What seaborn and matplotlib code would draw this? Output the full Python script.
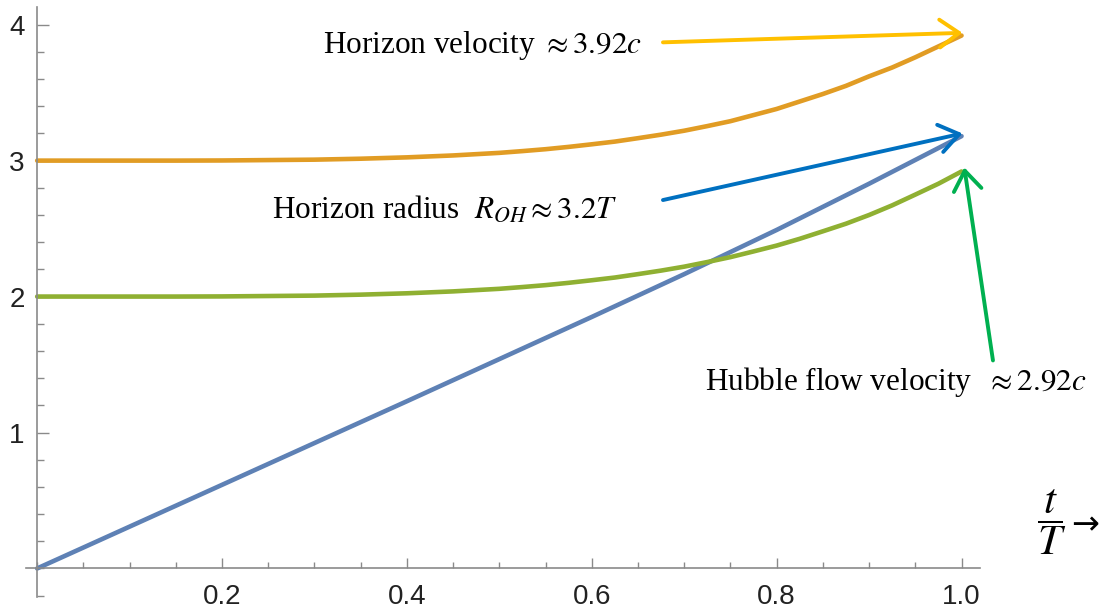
import numpy as np
import pandas as pd
import matplotlib
matplotlib.use("Agg")
import matplotlib.pyplot as plt
from matplotlib.ticker import MultipleLocator, FixedLocator
import seaborn as sns

# values
t_values = [0.0, 0.05, 0.1, 0.15, 0.2, 0.25, 0.3, 0.35, 0.4, 0.45, 0.5,
            0.525, 0.55, 0.575, 0.6, 0.625, 0.65, 0.675, 0.7, 0.725, 0.75,
            0.775, 0.8, 0.825, 0.85, 0.875, 0.9, 0.925, 0.95, 0.975, 1.0]
hubble_velocity = [2.0, 2.0, 2.0, 2.0, 2.001, 2.004, 2.007, 2.014, 2.024, 2.038, 2.057,
                   2.070, 2.084, 2.101, 2.12, 2.140, 2.165, 2.191, 2.22, 2.254, 2.29,
                   2.332, 2.375, 2.425, 2.48, 2.536, 2.60, 2.671, 2.75, 2.83, 2.92]
horizon_velocity = [3.0, 3.0, 3.0, 3.0, 3.001, 3.004, 3.007, 3.014, 3.024, 3.038, 3.057,
                    3.070, 3.084, 3.101, 3.12, 3.140, 3.165, 3.191, 3.22, 3.254, 3.29,
                    3.335, 3.38, 3.435, 3.49, 3.55, 3.62, 3.685, 3.76, 3.84, 3.92]
radius_t = [0.0, 0.2, 0.4, 0.6, 0.7, 0.8, 0.9, 1.0]
horizon_radius = [0.0, 0.615, 1.23, 1.85, 2.165, 2.49, 2.83, 3.18]

x_ticks = [0.2, 0.4, 0.6, 0.8, 1.0]
x_tick_labels = ["0.2", "0.4", "0.6", "0.8", "1.0"]
y_ticks = [1, 2, 3, 4]
y_tick_labels = ["1", "2", "3", "4"]

colors = {"radius": "#5E81B5", "horizon": "#E19C24", "hubble": "#8FB032"}

# long-form table for seaborn
df = pd.concat([
    pd.DataFrame({"t": radius_t, "value": horizon_radius, "series": "radius"}),
    pd.DataFrame({"t": t_values, "value": horizon_velocity, "series": "horizon"}),
    pd.DataFrame({"t": t_values, "value": hubble_velocity, "series": "hubble"}),
], ignore_index=True)

sns.set_style("white")
plt.rcParams["font.family"] = ["Liberation Sans", "DejaVu Sans"]
plt.rcParams["mathtext.fontset"] = "stix"

fig = plt.figure(figsize=(11.04, 6.14), dpi=100)
ax = fig.add_axes([0.0236, 0.0277, 0.8641, 0.9609])

sns.lineplot(data=df, x="t", y="value", hue="series", palette=colors,
             linewidth=3.3, legend=False, sort=False, estimator=None, ax=ax)
for line in ax.get_lines():
    line.set_solid_joinstyle("round")

ax.set_xlim(-0.012, 1.02)
ax.set_ylim(-0.21, 4.13)
ax.set_xlabel("")
ax.set_ylabel("")

# axes crossing at the origin
for side in ["top", "right"]:
    ax.spines[side].set_visible(False)
ax.spines["left"].set_position(("data", 0))
ax.spines["bottom"].set_position(("data", 0))
for side in ["left", "bottom"]:
    ax.spines[side].set_color("#8a8a8a")
    ax.spines[side].set_linewidth(1.2)

ax.xaxis.set_major_locator(FixedLocator(x_ticks))
ax.set_xticklabels(x_tick_labels)
ax.xaxis.set_minor_locator(MultipleLocator(0.05))
ax.yaxis.set_major_locator(FixedLocator(y_ticks))
ax.set_yticklabels(y_tick_labels)
ax.yaxis.set_minor_locator(MultipleLocator(0.2))

ax.tick_params(which="both", direction="in", color="#8a8a8a", width=1.0,
               labelsize=20, labelcolor="#222222")
ax.tick_params(axis="x", which="major", length=7.5, pad=11)
ax.tick_params(axis="x", which="minor", length=4)
ax.tick_params(axis="y", which="major", length=8.5, pad=9)
ax.tick_params(axis="y", which="minor", length=5)
ax.tick_params(axis="x", which="both", bottom=True, top=False)
ax.tick_params(axis="y", which="both", left=True, right=False)

serif = ["Liberation Serif", "DejaVu Serif"]
text_size = 22.5

# annotations
ax.text(0.309, 3.79, r"Horizon velocity $\approx 3.92c$", family=serif,
        fontsize=text_size, va="baseline", ha="left", color="black")
ax.text(0.254, 2.58, r"Horizon radius  $R_{OH}\approx 3.2T$", family=serif,
        fontsize=text_size, va="baseline", ha="left", color="black")
ax.text(0.722, 1.31, r"Hubble flow velocity  $\approx 2.92c$", family=serif,
        fontsize=text_size, va="baseline", ha="left", color="black")
ax.text(1.097, 0.34, r"$\dfrac{t}{T}$", family=serif,
        fontsize=31, va="center", ha="center", color="black")
ax.text(1.119, 0.25, "\u2192", family=["DejaVu Sans"],
        fontsize=24, va="baseline", ha="left", color="black")

arrow_style = "->, head_length=0.7, head_width=0.5"
arrows = [
    ((0.677, 3.87), (1.001, 3.94), "#FFC000"),
    ((0.677, 2.71), (1.001, 3.20), "#0070C0"),
    ((1.034, 1.53), (1.003, 2.95), "#00B050"),
]
for start, tip, col in arrows:
    ax.annotate("", xy=tip, xytext=start, annotation_clip=False,
                arrowprops=dict(arrowstyle=arrow_style, color=col, lw=2.8,
                                mutation_scale=20, shrinkA=0, shrinkB=0))

fig.savefig("out.png", dpi=100)
